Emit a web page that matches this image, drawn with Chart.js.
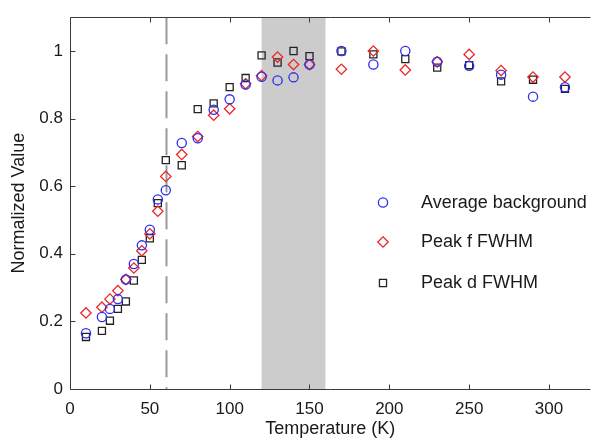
<!DOCTYPE html>
<html>
<head>
<meta charset="utf-8">
<script src="https://cdn.jsdelivr.net/npm/chart.js@4.4.1/dist/chart.umd.min.js"></script>
<style>
  html, body { margin: 0; padding: 0; background: #fff; overflow: hidden; }
  #wrap { width: 597px; height: 440px; }
</style>
</head>
<body>
<div id="wrap"><canvas id="c" width="597" height="440"></canvas></div>
<script>
// ---- data ----
const temps = [10, 20, 25, 30, 35, 40, 45, 50, 55, 60, 70, 80, 90, 100, 110, 120, 130, 140, 150, 170, 190, 210, 230, 250, 270, 290, 310];
const avgBackground = [0.165, 0.213, 0.237, 0.266, 0.324, 0.370, 0.425, 0.471, 0.561, 0.588, 0.728, 0.742, 0.826, 0.857, 0.901, 0.924, 0.913, 0.922, 0.960, 1.000, 0.960, 1.000, 0.968, 0.956, 0.930, 0.865, 0.893];
const peakF = [0.225, 0.242, 0.266, 0.291, 0.324, 0.358, 0.409, 0.459, 0.526, 0.629, 0.694, 0.747, 0.810, 0.829, 0.903, 0.927, 0.982, 0.960, 0.960, 0.946, 1.000, 0.944, 0.968, 0.990, 0.942, 0.923, 0.923];
const peakD = [0.154, 0.172, 0.202, 0.237, 0.259, 0.321, 0.382, 0.446, 0.550, 0.677, 0.662, 0.828, 0.845, 0.893, 0.920, 0.987, 0.966, 1.000, 0.985, 0.999, 0.990, 0.976, 0.951, 0.958, 0.910, 0.915, 0.888];
const seriesNames = ['Average background', 'Peak f FWHM', 'Peak d FWHM'];
const xTickValues = [0, 50, 100, 150, 200, 250, 300];
const yTickValues = [0, 0.2, 0.4, 0.6, 0.8, 1];
const shadeRange = [120, 160];
const dashedLineT = 60;
const xRange = [0, 326];
const yRange = [0, 1.1];

// ---- styles ----
const FONT = "'Liberation Sans', Arial, Helvetica, sans-serif";
const colors = ['rgb(45,45,235)', 'rgb(235,40,40)', 'rgb(35,35,35)'];
const styles = ['circle', 'rectRot', 'rect'];
const radii = [4.6, 5.2, 5];

function pts(ys) { return temps.map((t, i) => ({ x: t, y: ys[i] })); }
const seriesValues = [avgBackground, peakF, peakD];

const datasets = seriesValues.map((ys, i) => ({
  label: seriesNames[i],
  data: pts(ys),
  showLine: false,
  pointStyle: styles[i],
  pointRadius: radii[i],
  pointHoverRadius: radii[i],
  pointBorderWidth: 1.3,
  pointBorderColor: colors[i],
  pointBackgroundColor: 'rgba(0,0,0,0)',
  borderColor: colors[i],
  backgroundColor: 'rgba(0,0,0,0)'
}));

function drawMarker(ctx, style, x, y, r) {
  ctx.beginPath();
  if (style === 'circle') {
    ctx.arc(x, y, r, 0, Math.PI * 2);
  } else if (style === 'rectRot') {
    ctx.moveTo(x, y - r); ctx.lineTo(x + r, y); ctx.lineTo(x, y + r); ctx.lineTo(x - r, y); ctx.closePath();
  } else {
    const s = Math.SQRT1_2 * r;
    ctx.rect(x - s, y - s, 2 * s, 2 * s);
  }
  ctx.stroke();
}

const decorPlugin = {
  id: 'decor',
  beforeDatasetsDraw(chart) {
    const { ctx, chartArea: a, scales: { x, y } } = chart;
    ctx.save();
    // shaded band
    const x0 = x.getPixelForValue(shadeRange[0]);
    const x1 = x.getPixelForValue(shadeRange[1]);
    ctx.fillStyle = '#cccccc';
    ctx.fillRect(x0, a.top, x1 - x0, a.bottom - a.top);
    // dashed line
    const xd = Math.round(x.getPixelForValue(dashedLineT)) + 0.5;
    ctx.strokeStyle = '#9a9a9a';
    ctx.lineWidth = 2;
    ctx.setLineDash([27, 10]);
    ctx.beginPath();
    ctx.moveTo(xd, y.getPixelForValue(yRange[1]));
    ctx.lineTo(xd, y.getPixelForValue(0));
    ctx.stroke();
    ctx.restore();
  },
  afterDatasetsDraw(chart) {
    const { ctx, chartArea: a, scales: { x, y } } = chart;
    ctx.save();
    ctx.strokeStyle = '#3a3a3a';
    ctx.lineWidth = 1;
    const L = Math.round(a.left) + 0.5, B = Math.round(a.bottom) + 0.5, T = Math.round(a.top) + 0.5;
    ctx.beginPath();
    ctx.moveTo(L, T); ctx.lineTo(L, B); ctx.lineTo(a.right, B);
    ctx.moveTo(L, T); ctx.lineTo(a.right, T);
    const tl = 5;
    xTickValues.forEach(v => {
      const px = Math.round(x.getPixelForValue(v)) + 0.5;
      ctx.moveTo(px, B); ctx.lineTo(px, B - tl);
      ctx.moveTo(px, T); ctx.lineTo(px, T + tl);
    });
    yTickValues.forEach(v => {
      const py = Math.round(y.getPixelForValue(v)) + 0.5;
      ctx.moveTo(L, py); ctx.lineTo(L + tl, py);
    });
    ctx.stroke();

    // legend
    const lx = 383, tx = 421, rows = [202.5, 242, 283];
    ctx.font = '18px ' + FONT;
    ctx.textBaseline = 'middle';
    ctx.textAlign = 'left';
    chart.data.datasets.forEach((ds, i) => {
      ctx.strokeStyle = colors[i];
      ctx.lineWidth = 1.3;
      drawMarker(ctx, styles[i], lx, rows[i], radii[i]);
      ctx.fillStyle = '#1a1a1a';
      ctx.fillText(ds.label, tx, rows[i] + 0.5);
    });
    ctx.restore();
  }
};

new Chart(document.getElementById('c'), {
  type: 'scatter',
  data: { datasets },
  options: {
    responsive: false,
    animation: false,
    devicePixelRatio: 1,
    layout: { padding: { top: 7, right: 0, bottom: 0, left: 0 } },
    plugins: { legend: { display: false }, tooltip: { enabled: false } },
    scales: {
      x: {
        type: 'linear',
        min: xRange[0], max: xRange[1],
        grid: { display: false, drawTicks: false },
        border: { display: false },
        afterBuildTicks: s => { s.ticks = xTickValues.map(v => ({ value: v })); },
        afterFit: s => { s.height = 51; },
        ticks: {
          padding: 10,
          color: '#1a1a1a',
          font: { family: FONT, size: 17 },
          maxRotation: 0,
          callback: v => String(v)
        },
        title: {
          display: true, text: 'Temperature (K)', color: '#1a1a1a',
          font: { family: FONT, size: 18 }, padding: { top: 0, bottom: 0 }
        }
      },
      y: {
        type: 'linear',
        min: yRange[0], max: yRange[1],
        grid: { display: false, drawTicks: false },
        border: { display: false },
        afterBuildTicks: s => { s.ticks = yTickValues.map(v => ({ value: v })); },
        afterFit: s => { s.width = 70; },
        ticks: {
          padding: 7,
          color: '#1a1a1a',
          font: { family: FONT, size: 17 },
          callback: v => String(Number(v.toFixed(1)))
        },
        title: {
          display: true, text: 'Normalized Value', color: '#1a1a1a',
          font: { family: FONT, size: 18 }, padding: { top: 8.5, bottom: 0 }
        }
      }
    }
  },
  plugins: [decorPlugin]
});
</script>
</body>
</html>
